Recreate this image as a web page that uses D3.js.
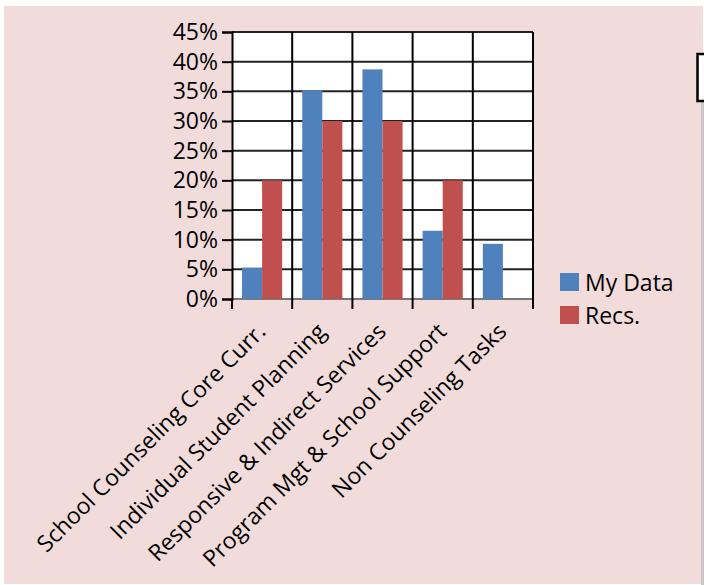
<!DOCTYPE html>
<html>
<head>
<meta charset="utf-8">
<script src="https://cdn.jsdelivr.net/npm/d3@7"></script>
<style>
  body { margin: 0; background: #fff; }
  svg { display: block; }
  text { font-family: "Open Sans", sans-serif; fill: #000; }
</style>
</head>
<body>
<svg id="chart" width="704" height="585"></svg>
<script>
// chart data
var categories = ["School Counseling Core Curr.", "Individual Student Planning",
    "Responsive & Indirect Services", "Program Mgt & School Support", "Non Counseling Tasks"];
var series = ["My Data", "Recs."];
var myData = [0.053, 0.352, 0.387, 0.115, 0.093];
var recs = [0.20, 0.30, 0.30, 0.20, 0];
var yTicks = [0, 0.05, 0.10, 0.15, 0.20, 0.25, 0.30, 0.35, 0.40, 0.45];
var colors = ["#4F81BD", "#C0504D"];

var svg = d3.select("#chart");

// pink chart area
svg.append("rect")
    .attr("x", 4).attr("y", 6)
    .attr("width", 699).attr("height", 578)
    .attr("fill", "#F2DCDB");

// bits of the neighbouring object on the right edge
svg.append("rect")
    .attr("x", 701).attr("y", 101)
    .attr("width", 4).attr("height", 484)
    .attr("fill", "#c8c8c8");
svg.append("rect")
    .attr("x", 697.5).attr("y", 54)
    .attr("width", 20).attr("height", 47)
    .attr("fill", "#fff").attr("stroke", "#000").attr("stroke-width", 2.5);

var plotL = 232, plotR = 533, plotT = 32, plotB = 299;

var x = d3.scaleBand().domain(categories).range([plotL, plotR]);
var x1 = d3.scaleBand().domain(series).range([0, x.bandwidth()]).paddingOuter(0.5);
var y = d3.scaleLinear().domain([0, 0.45]).range([plotB, plotT]);

// plot area
svg.append("rect")
    .attr("x", plotL).attr("y", plotT)
    .attr("width", plotR - plotL).attr("height", plotB - plotT)
    .attr("fill", "#fff");

// horizontal grid
svg.append("g")
    .selectAll("line")
    .data(yTicks)
    .join("line")
    .attr("x1", plotL).attr("x2", plotR)
    .attr("y1", d => y(d)).attr("y2", d => y(d))
    .attr("stroke", d => d == 0 ? "#777" : "#222")
    .attr("stroke-width", 2);

// vertical grid at category edges
var edges = categories.map(c => x(c)).concat([plotR]);
svg.append("g")
    .selectAll("line")
    .data(edges.slice(1))
    .join("line")
    .attr("x1", d => d).attr("x2", d => d)
    .attr("y1", plotT).attr("y2", plotB)
    .attr("stroke", "#000")
    .attr("stroke-width", 2);

// bars
var groups = svg.append("g")
    .selectAll("g")
    .data(categories)
    .join("g")
    .attr("transform", d => "translate(" + x(d) + ",0)");

groups.selectAll("rect")
    .data((d, i) => [myData[i], recs[i]].map((v, j) => ({ s: series[j], v: v, c: colors[j] })))
    .join("rect")
    .attr("x", d => x1(d.s))
    .attr("width", x1.bandwidth())
    .attr("y", d => y(d.v))
    .attr("height", d => plotB - y(d.v))
    .attr("fill", d => d.c);

// y axis
var yAxis = svg.append("g")
    .attr("transform", "translate(" + plotL + ",0)")
    .call(d3.axisLeft(y).tickValues(yTicks).tickSize(10).tickPadding(4).tickFormat(d3.format(".0%")));
yAxis.select(".domain").attr("stroke", "#000").attr("stroke-width", 2);
yAxis.selectAll(".tick line").attr("stroke", "#000").attr("stroke-width", 2);
yAxis.selectAll("text")
    .style("font-family", "'Open Sans', sans-serif")
    .style("font-size", "23px")
    .attr("fill", "#000");

// x axis ticks
svg.append("g")
    .selectAll("line")
    .data(edges)
    .join("line")
    .attr("x1", d => d).attr("x2", d => d)
    .attr("y1", plotB).attr("y2", plotB + 10)
    .attr("stroke", "#000")
    .attr("stroke-width", 2);

// x labels
svg.append("g")
    .selectAll("text")
    .data(categories)
    .join("text")
    .attr("transform", d => "translate(" + (x(d) + x.bandwidth() / 2 + 5) + "," + (plotB + 34) + ") rotate(-45)")
    .attr("text-anchor", "end")
    .style("font-size", "23px")
    .text(d => d);

// legend
var legend = svg.append("g")
    .selectAll("g")
    .data(series)
    .join("g")
    .attr("transform", (d, i) => "translate(560," + (273 + i * 33) + ")");

legend.append("rect")
    .attr("width", 19).attr("height", 18)
    .attr("fill", (d, i) => colors[i]);

legend.append("text")
    .attr("x", 25).attr("y", 18)
    .style("font-size", "23px")
    .text(d => d);
</script>
</body>
</html>
